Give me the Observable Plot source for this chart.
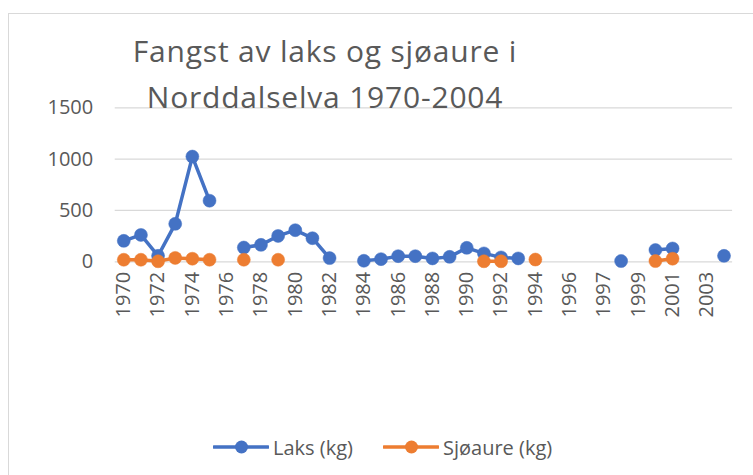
<!DOCTYPE html>
<html>
<head>
<meta charset="utf-8">
<script src="https://cdn.jsdelivr.net/npm/d3@7"></script>
<script src="https://cdn.jsdelivr.net/npm/@observablehq/plot@0.6"></script>
<style>
  html, body { margin:0; padding:0; background:#fff; overflow:hidden; }
  #wrap { position:relative; width:753px; height:475px; overflow:hidden; font-family:"Open Sans", sans-serif; }
  #border { position:absolute; left:8px; top:13px; width:780px; height:500px; border:1.3px solid #d9d9d9; box-sizing:border-box; }
  #chart { position:absolute; left:0; top:0; }
  #title { position:absolute; left:0; width:650px; top:28px; text-align:center; font-size:30px; letter-spacing:0.8px; line-height:46px; color:#595959; }
  .leg { position:absolute; top:434px; height:26px; display:flex; align-items:center; font-size:20px; color:#595959; white-space:nowrap; }
  .leg svg { margin-right:4px; }
</style>
</head>
<body>
<div id="wrap">
  <div id="border"></div>
  <div id="chart"></div>
  <div id="title">Fangst av laks og sjøaure i<br>Norddalselva 1970-2004</div>
  <div id="legend"></div>
</div>
<script>
// Category labels (36 categories on the axis; every second one is labelled)
const categories = [
  "1970","1971","1972","1973","1974","1975","1976","1977","1978","1979",
  "1980","1981","1982","1983","1984","1985","1986","1987","1988","1989",
  "1990","1991","1992","1993","1994","1995","1996","1996","1997","1998",
  "1999","2000","2001","2002","2003","2004"
];
// Series values (kg); null = missing (gap in line)
const laks = [
  204, 262, 58, 370, 1025, 595, null, 139, 165, 252,
  308, 230, 36, null, 10, 26, 55, 55, 33, 48,
  136, 82, 43, 33, null, null, null, null, null, 7,
  null, 115, 130, null, null, 58
];
const sjoaure = [
  20, 20, 5, 38, 30, 20, null, 20, null, 20,
  null, null, null, null, null, null, null, null, null, null,
  null, 5, 5, null, 22, null, null, null, null, null,
  null, 7, 30, null, null, null
];
const yTicks = [0, 500, 1000, 1500];
const seriesNames = ["Laks (kg)", "Sjøaure (kg)"];
const seriesColors = ["#4472C4", "#ED7D31"];

const rows = (vals) => vals.map((v, i) => ({i, v}));
const evenIdx = categories.map((_, i) => i).filter(i => i % 2 === 0);

const plot = Plot.plot({
  width: 753,
  height: 475,
  marginLeft: 114.7,
  marginRight: 20.9,
  marginTop: 107.3,
  marginBottom: 213.7,
  x: {type: "linear", domain: [-0.5, categories.length - 0.5]},
  y: {domain: [0, 1500]},
  style: {fontFamily: "Open Sans, sans-serif", fontSize: "20px", color: "#595959", background: "transparent"},
  marks: [
    Plot.gridY(yTicks, {stroke: "#d9d9d9", strokeOpacity: 1, strokeWidth: 1.3}),
    Plot.axisY(yTicks, {tickSize: 0, tickPadding: 22, fontSize: 20, fill: "#595959", label: null,
      tickFormat: d => String(d)}),
    Plot.axisX(evenIdx, {tickSize: 0, tickRotate: -90, tickPadding: 10, fontSize: 20, fill: "#595959", label: null,
      tickFormat: i => categories[i]}),
    Plot.line(rows(laks), {x: "i", y: "v", stroke: seriesColors[0], strokeWidth: 3.5}),
    Plot.dot(rows(laks), {x: "i", y: "v", r: 6.5, fill: seriesColors[0], stroke: seriesColors[0], strokeWidth: 0.5}),
    Plot.line(rows(sjoaure), {x: "i", y: "v", stroke: seriesColors[1], strokeWidth: 3.5}),
    Plot.dot(rows(sjoaure), {x: "i", y: "v", r: 6.5, fill: seriesColors[1], stroke: seriesColors[1], strokeWidth: 0.5})
  ]
});
document.getElementById("chart").appendChild(plot);

// Legend
const legend = document.getElementById("legend");
const legLefts = [213, 383];
seriesNames.forEach((name, k) => {
  const d = document.createElement("div");
  d.className = "leg";
  d.style.left = legLefts[k] + "px";
  d.innerHTML = `<svg width="56" height="16"><line x1="1" x2="55" y1="8" y2="8" stroke="${seriesColors[k]}" stroke-width="3.5" stroke-linecap="round"/><circle cx="28.5" cy="8" r="6.5" fill="${seriesColors[k]}"/></svg><span>${name}</span>`;
  legend.appendChild(d);
});
</script>
</body>
</html>
